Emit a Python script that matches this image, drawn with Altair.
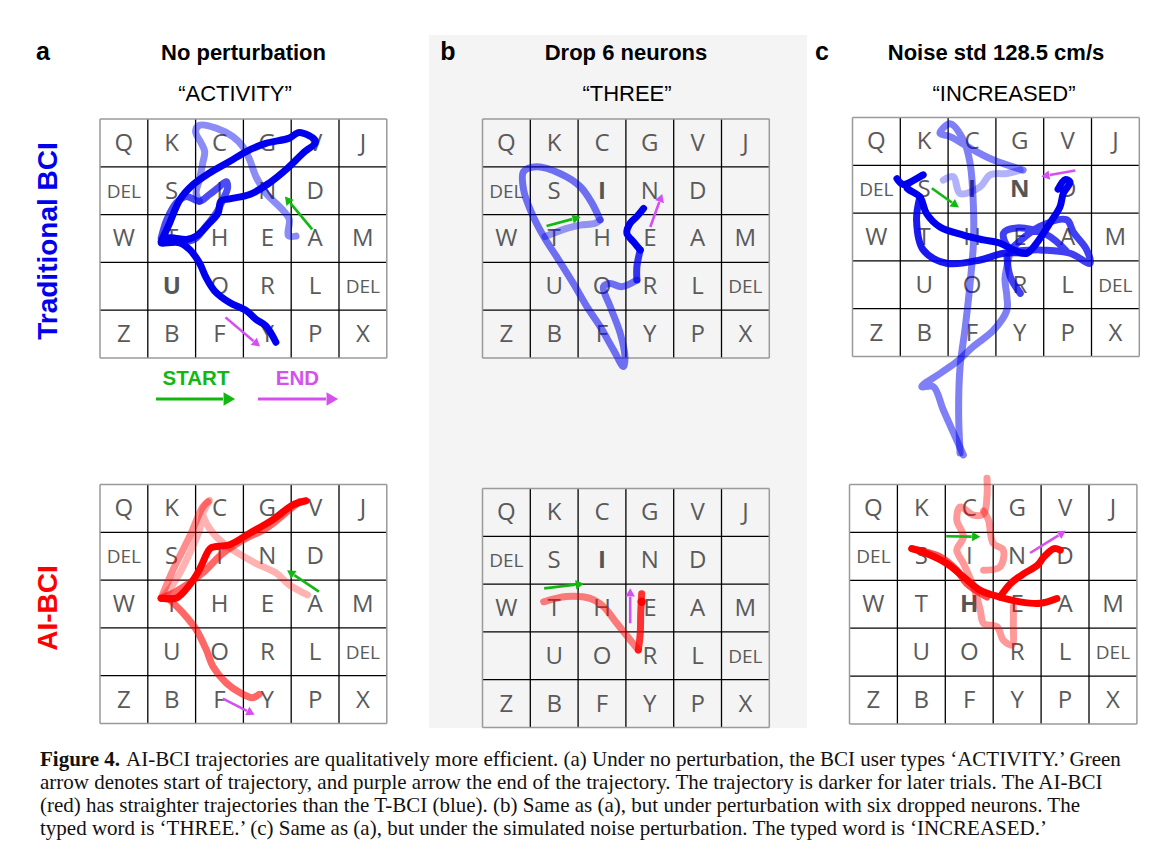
import math
import altair as alt
import pandas as pd

# ---------------- data ----------------
LETTERS = [["Q", "K", "C", "G", "V", "J"],
           ["DEL", "S", "I", "N", "D", ""],
           ["W", "T", "H", "E", "A", "M"],
           ["", "U", "O", "R", "L", "DEL"],
           ["Z", "B", "F", "Y", "P", "X"]]

# panel origin (px) and cell size
PANELS = {"aT": (100, 119, 47.8), "aB": (100, 484.5, 47.8),
          "bT": (482.5, 119, 47.8), "bB": (482.5, 488.5, 47.8),
          "cT": (852.5, 117.5, 47.8), "cB": (849.5, 484.5, 47.9)}
BOLD = {"aT": ["U"], "bT": ["I"], "bB": ["I"], "cT": ["I", "N"], "cB": ["H"]}

BLUE = "#0000ee"
RED = "#ff0000"
GREEN = "#10b810"
MAGENTA = "#d64ff0"

# trajectories: (panel, colour, opacity, [(col,row),...]) in grid-cell units
TRAJ = [
    ("aT", BLUE, 0.45, [(4.10, 2.45), (3.94, 2.44), (3.96, 2.10), (3.82, 1.90), (3.47, 1.55), (3.26, 1.20), (3.13, 0.85), (2.99, 0.58), (2.78, 0.37), (2.43, 0.19), (2.08, 0.13), (2.0, 0.26), (2.12, 0.51), (2.19, 0.68), (2.15, 0.92), (2.08, 1.27), (2.01, 1.55), (2.08, 1.72)]),
    ("aT", BLUE, 0.7, [(1.28, 2.49), (1.40, 2.10), (1.60, 1.75), (1.80, 1.62), (2.08, 1.72), (2.29, 1.58), (2.47, 1.44), (2.64, 1.31), (2.67, 1.44), (2.57, 1.69), (2.43, 1.97), (2.22, 2.24), (2.01, 2.49), (1.81, 2.56), (1.53, 2.49), (1.28, 2.49)]),
    ("aT", BLUE, 1.0, [(1.28, 2.56), (1.46, 2.17), (1.67, 1.69), (1.94, 1.38), (2.29, 1.13), (2.71, 0.89), (3.06, 0.68), (3.47, 0.51), (3.96, 0.40), (4.17, 0.28), (4.51, 0.47), (4.24, 0.72), (3.89, 1.06), (3.54, 1.34), (3.13, 1.58), (2.71, 1.67), (2.53, 1.72), (2.47, 1.97), (2.26, 2.21), (2.01, 2.45), (1.81, 2.52), (1.46, 2.49), (1.28, 2.59), (1.67, 2.59), (1.875, 2.73), (2.08, 3.01), (2.22, 3.32), (2.40, 3.60), (2.71, 3.84), (3.06, 4.01), (3.26, 4.19), (3.47, 4.33), (3.68, 4.67)]),
    ("aB", RED, 0.3, [(4.34, 2.31), (3.96, 2.10), (3.68, 1.85), (3.26, 1.65), (2.78, 1.37), (2.43, 1.09), (2.19, 0.74), (2.15, 0.53), (2.29, 0.33), (2.15, 0.60), (2.08, 0.95), (1.875, 1.44), (1.67, 1.85), (1.39, 2.27), (1.28, 2.38)]),
    ("aB", RED, 0.45, [(1.28, 2.38), (1.53, 1.78), (1.875, 1.09), (2.15, 0.47), (2.26, 0.36)]),
    ("aB", RED, 0.6, [(1.28, 2.38), (1.53, 2.27), (1.875, 2.06), (2.15, 1.85), (2.57, 1.44), (2.99, 1.16), (3.47, 0.92), (3.96, 0.53), (4.17, 0.36)]),
    ("aB", RED, 0.6, [(1.46, 2.41), (1.74, 2.69), (2.01, 3.03), (2.22, 3.45), (2.36, 3.80), (2.64, 4.15), (2.92, 4.35), (3.19, 4.46), (3.33, 4.39)]),
    ("aB", RED, 1.0, [(1.28, 2.38), (1.60, 2.375), (1.875, 2.10), (2.08, 1.78), (2.26, 1.40), (2.33, 1.32), (2.71, 1.26), (3.13, 1.02), (3.61, 0.74), (4.03, 0.43), (4.31, 0.34)]),
    ("bT", BLUE, 0.55, [(2.46, 2.11), (2.29, 1.76), (2.04, 1.41), (1.62, 1.14), (1.14, 1.00), (0.86, 1.10), (0.86, 1.48), (1.0, 1.90), (1.28, 2.46), (1.55, 2.88), (1.90, 3.44), (2.18, 3.92), (2.46, 4.34), (2.74, 4.83), (2.95, 5.18), (2.98, 4.97), (2.88, 4.48), (2.67, 3.92), (2.53, 3.51), (2.67, 3.44), (2.91, 3.51), (3.23, 3.37)]),
    ("bT", BLUE, 0.4, [(1.31, 2.46), (1.76, 2.29), (2.04, 2.22), (2.36, 2.18), (2.46, 2.11)]),
    ("bT", BLUE, 0.8, [(3.23, 3.37), (3.23, 3.09), (3.30, 2.74)]),
    ("bT", BLUE, 1.0, [(3.30, 2.74), (3.16, 2.57), (3.02, 2.39), (3.09, 2.18), (3.23, 2.04), (3.37, 1.87)]),
    ("bB", RED, 0.5, [(1.28, 2.37), (1.76, 2.26), (2.25, 2.30), (2.53, 2.47), (2.81, 2.82), (3.09, 3.17), (3.26, 3.38)]),
    ("bB", RED, 0.8, [(3.26, 3.38), (3.30, 3.03), (3.31, 2.61), (3.33, 2.20)]),
    ("cT", BLUE, 0.5, [(2.25, 7.02), (2.22, 6.12), (2.25, 5.22), (2.36, 4.38), (2.46, 3.47), (2.53, 2.63), (2.53, 1.87), (2.46, 0.96), (2.32, 0.47), (2.04, 0.13), (1.83, 0.33), (2.04, 0.40), (2.53, 0.68), (2.95, 0.89), (3.57, 1.10)]),
    ("cT", BLUE, 0.5, [(2.32, 7.06), (2.15, 6.68), (1.90, 6.12), (1.69, 5.63), (1.45, 5.63), (1.84, 5.35), (2.18, 5.11), (2.53, 4.79), (2.95, 4.45), (3.23, 4.03), (3.23, 3.75), (3.19, 3.37), (3.23, 3.12), (3.30, 2.80)]),
    ("cT", BLUE, 0.3, [(1.90, 1.31), (2.11, 1.24), (2.25, 1.59), (2.67, 1.45), (2.88, 1.20), (3.23, 1.17), (3.51, 1.10)]),
    ("cT", BLUE, 0.75, [(3.37, 2.70), (3.92, 2.28), (4.48, 2.14), (4.62, 2.40), (4.90, 2.77), (4.97, 3.05), (4.55, 2.84), (3.92, 2.77), (3.30, 2.75), (3.16, 2.42), (3.44, 2.31), (4.06, 2.45), (4.48, 2.80)]),
    ("cT", BLUE, 0.75, [(3.23, 2.91), (3.30, 3.33), (3.51, 3.68)]),
    ("cT", BLUE, 0.9, [(1.41, 1.66), (1.34, 2.15), (1.48, 2.77), (1.97, 3.05), (2.67, 2.98), (3.16, 2.84), (3.64, 2.84)]),
    ("cT", BLUE, 1.0, [(0.93, 1.28), (1.06, 1.40), (1.48, 1.20), (1.13, 1.45), (1.41, 1.66), (1.55, 2.01), (1.83, 2.29), (2.32, 2.46), (2.74, 2.56), (3.09, 2.63), (3.37, 2.77), (3.64, 2.84), (3.85, 2.63), (4.13, 2.21), (4.34, 1.87), (4.41, 1.59), (4.55, 1.35), (4.45, 1.30), (4.30, 1.50)]),
    ("cB", RED, 0.4, [(2.87, -0.13), (2.87, 0.26), (2.80, 0.61), (2.59, 0.64), (2.31, 0.47), (2.24, 0.74), (2.38, 1.09), (2.24, 1.37), (2.38, 1.65), (2.59, 2.14), (2.73, 2.62), (2.80, 2.90), (3.08, 2.97), (3.21, 3.25), (3.39, 3.35), (3.42, 2.90), (3.42, 2.55)]),
    ("cB", RED, 0.4, [(2.80, 1.79), (3.14, 1.72), (3.21, 1.37), (3.00, 1.23), (2.90, 0.74), (2.80, 0.55)]),
    ("cB", RED, 0.7, [(1.30, 1.34), (1.89, 1.51), (2.24, 1.79), (2.45, 2.07), (2.87, 2.35)]),
    ("cB", RED, 1.0, [(1.30, 1.34), (1.61, 1.44), (2.03, 1.65), (2.38, 1.93), (2.73, 2.21), (3.14, 2.35), (3.56, 2.45), (3.98, 2.48), (4.33, 2.38)]),
    ("cB", RED, 1.0, [(3.14, 2.35), (3.36, 2.07), (3.64, 1.86), (3.92, 1.69), (4.06, 1.51), (4.27, 1.34), (4.40, 1.37)]),
]
DOTS = [("bB", RED, 3.33, 2.37)]

# start / end arrows in grid units: (panel, colour, c0, r0, c1, r1)
ARROWS = [
    ("aT", GREEN, 4.44, 2.31, 3.85, 1.60), ("aT", MAGENTA, 2.625, 4.15, 3.37, 4.78),
    ("aB", GREEN, 4.58, 2.24, 3.89, 1.78), ("aB", MAGENTA, 2.57, 4.48, 3.26, 4.83),
    ("bT", GREEN, 1.34, 2.24, 2.08, 2.04), ("bT", MAGENTA, 3.51, 2.26, 3.77, 1.54),
    ("bB", GREEN, 1.29, 2.09, 2.15, 1.99), ("bB", MAGENTA, 3.09, 2.82, 3.09, 2.06),
    ("cT", GREEN, 1.66, 1.48, 2.25, 1.90), ("cT", MAGENTA, 4.66, 1.11, 3.92, 1.24),
    ("cB", GREEN, 2.02, 1.08, 2.76, 1.09), ("cB", MAGENTA, 3.77, 1.43, 4.54, 0.95),
]

TITLES = ["No perturbation", "Drop 6 neurons", "Noise std 128.5 cm/s"]
WORDS = ["\u201cACTIVITY\u201d", "\u201cTHREE\u201d", "\u201cINCREASED\u201d"]
PANEL_LETTERS = ["a", "b", "c"]
ROW_LABELS = ["Traditional BCI", "AI-BCI"]
CAPTION_BOLD = "Figure 4."
CAPTION = [
    "AI-BCI trajectories are qualitatively more efficient. (a) Under no perturbation, the BCI user types \u2018ACTIVITY.\u2019 Green",
    "arrow denotes start of trajectory, and purple arrow the end of the trajectory. The trajectory is darker for later trials. The AI-BCI",
    "(red) has straighter trajectories than the T-BCI (blue). (b) Same as (a), but under perturbation with six dropped neurons. The",
    "typed word is \u2018THREE.\u2019 (c) Same as (a), but under the simulated noise perturbation. The typed word is \u2018INCREASED.\u2019",
]

# ---------------- layout helpers ----------------
XS = alt.Scale(domain=[8, 1160], nice=False, zero=False)
YS = alt.Scale(domain=[8, 855], nice=False, zero=False, reverse=True)


def X(f="x"):
    return alt.X(f"{f}:Q", scale=XS, axis=None)


def Y(f="y"):
    return alt.Y(f"{f}:Q", scale=YS, axis=None)


def to_px(panel, c, r):
    x0, y0, s = PANELS[panel]
    return x0 + c * s, y0 + r * s


# grid lines
inner, outer = [], []
for p, (x0, y0, s) in PANELS.items():
    for k in range(1, 6):
        inner.append(dict(x=x0 + k * s, x2=x0 + k * s, y=y0, y2=y0 + 5 * s))
    for k in range(1, 5):
        inner.append(dict(x=x0, x2=x0 + 6 * s, y=y0 + k * s, y2=y0 + k * s))
    outer += [dict(x=x0, x2=x0 + 6 * s, y=y0, y2=y0), dict(x=x0, x2=x0 + 6 * s, y=y0 + 5 * s, y2=y0 + 5 * s),
              dict(x=x0, x2=x0, y=y0, y2=y0 + 5 * s), dict(x=x0 + 6 * s, x2=x0 + 6 * s, y=y0, y2=y0 + 5 * s)]

letters = []
for p in PANELS:
    for r, row in enumerate(LETTERS):
        for c, t in enumerate(row):
            if not t:
                continue
            x, y = to_px(p, c + 0.5, r + 0.52)
            letters.append(dict(x=x, y=y, t=t, size=19 if t == "DEL" else 24,
                                bold=t in BOLD.get(p, [])))
letters = pd.DataFrame(letters)

traj = []
for k, (p, col, op, pts) in enumerate(TRAJ):
    for i, (c, r) in enumerate(pts):
        x, y = to_px(p, c, r)
        traj.append(dict(seg=k, i=i, x=x, y=y, col=col, op=op))
traj = pd.DataFrame(traj)

dots = pd.DataFrame([dict(x=to_px(p, c, r)[0], y=to_px(p, c, r)[1], col=col) for p, col, c, r in DOTS])

shafts, heads = [], []


def add_arrow(x0, y0, x1, y1, col, w, hl):
    ang = math.atan2(y1 - y0, x1 - x0)
    bx, by = x1 - hl * math.cos(ang), y1 - hl * math.sin(ang)
    shafts.append(dict(x=x0, y=y0, x2=bx, y2=by, col=col, w=w))
    heads.append(dict(x=x1 - 0.55 * hl * math.cos(ang), y=y1 - 0.55 * hl * math.sin(ang), col=col,
                      ang=math.degrees(ang) % 360, sz=hl * hl * 0.9))


for p, col, c0, r0, c1, r1 in ARROWS:
    a = to_px(p, c0, r0)
    b = to_px(p, c1, r1)
    add_arrow(a[0], a[1], b[0], b[1], col, 2.6, 10)
add_arrow(156, 399, 237, 399, GREEN, 3.2, 14)
add_arrow(258, 399, 340, 399, MAGENTA, 3.2, 14)
shafts = pd.DataFrame(shafts)
heads = pd.DataFrame(heads)

# ---------------- layers ----------------
bg = alt.Chart(pd.DataFrame([dict(x=429, x2=807, y=35, y2=728)])).mark_rect(color="#f4f4f4").encode(
    x=X(), x2="x2:Q", y=Y(), y2="y2:Q")

inner_l = alt.Chart(pd.DataFrame(inner)).mark_rule(color="#000000", strokeWidth=1.3).encode(
    x=X(), x2="x2:Q", y=Y(), y2="y2:Q")
outer_l = alt.Chart(pd.DataFrame(outer)).mark_rule(color="#9a9a9a", strokeWidth=1.5).encode(
    x=X(), x2="x2:Q", y=Y(), y2="y2:Q")

let_n = alt.Chart(letters[~letters.bold]).mark_text(font="Open Sans", color="#5a5a5a", baseline="middle").encode(
    x=X(), y=Y(), text="t:N", size=alt.Size("size:Q", scale=None))
let_b = alt.Chart(letters[letters.bold]).mark_text(font="Open Sans", fontWeight="bold", color="#555555",
                                                   baseline="middle").encode(
    x=X(), y=Y(), text="t:N", size=alt.Size("size:Q", scale=None))

lines = alt.Chart(traj).mark_line(strokeWidth=7, strokeCap="round", strokeJoin="round",
                                  interpolate="catmull-rom").encode(
    x=X(), y=Y(), detail="seg:N", order=alt.Order("i:Q"),
    color=alt.Color("col:N", scale=None), opacity=alt.Opacity("op:Q", scale=None))

dot_l = alt.Chart(dots).mark_point(filled=True, size=70, opacity=1).encode(
    x=X(), y=Y(), color=alt.Color("col:N", scale=None))

shaft_l = alt.Chart(shafts).mark_rule().encode(
    x=X(), x2="x2:Q", y=Y(), y2="y2:Q", color=alt.Color("col:N", scale=None),
    strokeWidth=alt.StrokeWidth("w:Q", scale=None))
head_l = alt.Chart(heads).mark_point(shape="triangle-right", filled=True, opacity=1).encode(
    x=X(), y=Y(), color=alt.Color("col:N", scale=None), angle=alt.Angle("ang:Q", scale=None),
    size=alt.Size("sz:Q", scale=None))

# text labels
col_centers = [243.5, 626, 996]
title_df = pd.DataFrame([dict(x=col_centers[i], y=60, t=TITLES[i]) for i in range(3)])
word_df = pd.DataFrame([dict(x=[235, 627, 1004][i], y=101, t=WORDS[i]) for i in range(3)])
pl_df = pd.DataFrame([dict(x=[43, 448, 822][i], y=60, t=PANEL_LETTERS[i]) for i in range(3)])

titles = alt.Chart(title_df).mark_text(font="Liberation Sans", fontWeight="bold", fontSize=22,
                                       color="#000000", baseline="alphabetic").encode(x=X(), y=Y(), text="t:N")
words = alt.Chart(word_df).mark_text(font="Liberation Sans", fontSize=22, color="#000000",
                                     baseline="alphabetic").encode(x=X(), y=Y(), text="t:N")
pls = alt.Chart(pl_df).mark_text(font="Liberation Sans", fontWeight="bold", fontSize=25, color="#000000",
                                 baseline="alphabetic").encode(x=X(), y=Y(), text="t:N")

rl_df = pd.DataFrame([dict(x=49, y=241, t=ROW_LABELS[0], col=BLUE), dict(x=49, y=608, t=ROW_LABELS[1], col=RED)])
rlabels = alt.Chart(rl_df).mark_text(font="Liberation Sans", fontWeight="bold", fontSize=28, angle=270,
                                     baseline="middle", align="center").encode(
    x=X(), y=Y(), text="t:N", color=alt.Color("col:N", scale=None))

se_df = pd.DataFrame([dict(x=196, y=379, t="START", col=GREEN), dict(x=297.5, y=379, t="END", col=MAGENTA)])
se = alt.Chart(se_df).mark_text(font="Liberation Sans", fontWeight="bold", fontSize=20.5, baseline="middle").encode(
    x=X(), y=Y(), text="t:N", color=alt.Color("col:N", scale=None))

cap_y = [760, 783, 806, 829]
cap_df = pd.DataFrame([dict(x=(126 if i == 0 else 40), y=cap_y[i], t=CAPTION[i]) for i in range(4)])
cap = alt.Chart(cap_df).mark_text(font="Liberation Serif", fontSize=21, color="#111111", align="left",
                                  baseline="middle").encode(x=X(), y=Y(), text="t:N")
capb = alt.Chart(pd.DataFrame([dict(x=40, y=760, t=CAPTION_BOLD)])).mark_text(
    font="Liberation Serif", fontWeight="bold", fontSize=21, color="#111111", align="left",
    baseline="middle").encode(x=X(), y=Y(), text="t:N")

chart = alt.layer(bg, inner_l, outer_l, let_n, let_b, lines, dot_l, shaft_l, head_l,
                  titles, words, pls, rlabels, se, cap, capb).properties(
    width=1152, height=847, padding=0,
    autosize=alt.AutoSizeParams(type="fit", contains="padding"),
).configure_view(strokeWidth=0)

chart.save("out.html", embed_options={"renderer": "svg", "actions": False})
